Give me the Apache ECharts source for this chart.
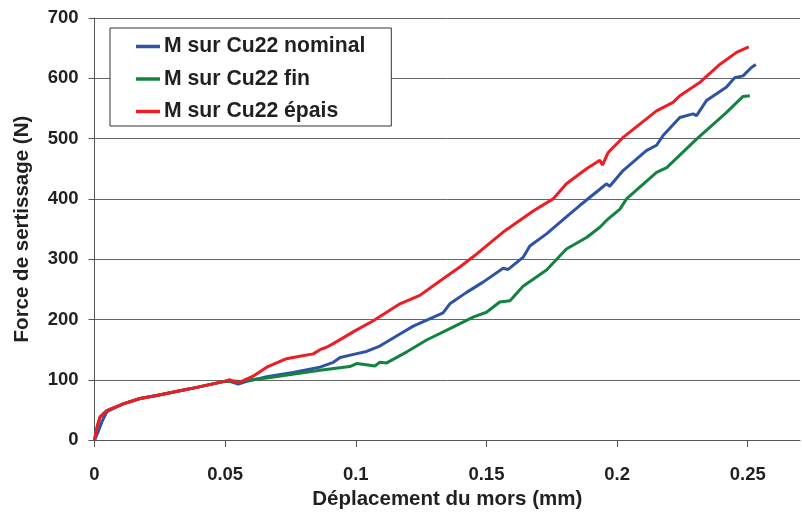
<!DOCTYPE html>
<html>
<head>
<meta charset="utf-8">
<script src="https://cdn.jsdelivr.net/npm/echarts@6/dist/echarts.min.js"></script>
<style>
html,body{margin:0;padding:0;background:#fff;}
#c{width:802px;height:515px;}
</style>
</head>
<body>
<div id="c"></div>
<script>
const seriesNames = ['M sur Cu22 nominal', 'M sur Cu22 fin', 'M sur Cu22 épais'];
const xTickLabels = ['0', '0.05', '0.1', '0.15', '0.2', '0.25'];
const yTickLabels = ['0', '100', '200', '300', '400', '500', '600', '700'];

const xNominal = [0, 0.0012, 0.003, 0.0047, 0.011, 0.0174, 0.0238, 0.0365, 0.0493, 0.052, 0.055, 0.058, 0.0659, 0.076, 0.0863, 0.0914, 0.094, 0.1, 0.1041, 0.1092, 0.1169, 0.122, 0.1334, 0.136, 0.1424, 0.1487, 0.1564, 0.1583, 0.164, 0.1666, 0.173, 0.1781, 0.1857, 0.1934, 0.1959, 0.1972, 0.2023, 0.2112, 0.2151, 0.2176, 0.224, 0.2291, 0.2304, 0.2342, 0.2418, 0.245, 0.2482, 0.2514, 0.2531];
const yNominal = [0, 12, 32, 47, 60, 69, 74, 85, 97, 97, 93, 97, 105, 112, 121, 129, 137, 143, 147, 156, 176, 189, 211, 226, 245, 262, 285, 283, 303, 322, 342, 361, 389, 416, 425, 421, 447, 480, 489, 505, 535, 541, 538, 563, 585, 601, 604, 618, 623];

const xFin = [0, 0.001, 0.0021, 0.0047, 0.011, 0.0174, 0.0238, 0.0365, 0.0493, 0.053, 0.056, 0.06, 0.0659, 0.0863, 0.0977, 0.1003, 0.104, 0.1073, 0.1092, 0.1118, 0.1194, 0.1271, 0.136, 0.1449, 0.15, 0.1551, 0.159, 0.164, 0.173, 0.1806, 0.1883, 0.1934, 0.1966, 0.2011, 0.2036, 0.2151, 0.219, 0.2304, 0.2418, 0.2482, 0.2508];
const yFin = [0, 22, 38, 49, 60, 69, 74, 85, 97, 98, 97, 100, 103, 116, 122, 127, 125, 123, 129, 128, 146, 166, 185, 204, 212, 229, 231, 255, 282, 317, 336, 353, 367, 383, 400, 444, 452, 499, 543, 570, 571];

const xEpais = [0, 0.001, 0.0021, 0.0047, 0.011, 0.0174, 0.0238, 0.0365, 0.0493, 0.0518, 0.0538, 0.0557, 0.0607, 0.0659, 0.0735, 0.0786, 0.0837, 0.0863, 0.0888, 0.0914, 0.1, 0.1067, 0.1169, 0.1245, 0.1322, 0.1398, 0.1449, 0.1564, 0.1679, 0.1755, 0.1806, 0.1883, 0.1934, 0.1944, 0.1966, 0.2023, 0.2151, 0.2214, 0.224, 0.2316, 0.2393, 0.2457, 0.2504];
const yEpais = [0, 22, 38, 49, 60, 69, 74, 85, 97, 100, 96, 96, 106, 121, 135, 139, 143, 150, 154, 160, 182, 198, 226, 240, 264, 287, 304, 345, 380, 400, 425, 450, 464, 456, 477, 502, 546, 560, 571, 593, 623, 643, 652];

const colors = ['#2F52A4', '#13843F', '#EE1D25'];

function zip(xs, ys) { return xs.map((x, i) => [x, ys[i]]); }
const seriesData = [zip(xNominal, yNominal), zip(xFin, yFin), zip(xEpais, yEpais)];

const chart = echarts.init(document.getElementById('c'), null, {renderer: 'canvas'});
const font = 'Arial, "Liberation Sans", sans-serif';
chart.setOption({
  animation: false,
  backgroundColor: '#fff',
  grid: {left: 94.5, right: 2, top: 18, bottom: 73.5, containLabel: false},
  legend: {
    orient: 'vertical',
    left: 110, top: 28,
    padding: [8, 26, 4, 26],
    backgroundColor: '#fff',
    borderColor: '#333',
    borderWidth: 1,
    itemGap: 11.5,
    itemWidth: 24,
    itemHeight: 3.5,
    icon: 'rect',
    data: seriesNames,
    textStyle: {fontFamily: font, fontWeight: 'bold', fontSize: 21.2, color: '#231F20', lineHeight: 20, padding: [0,0,0,-1]}
  },
  xAxis: {
    type: 'value', min: 0, max: 0.27, interval: 0.05,
    name: 'Déplacement du mors (mm)', nameLocation: 'middle', nameGap: 46,
    nameTextStyle: {fontFamily: font, fontWeight: 'bold', fontSize: 20.5, color: '#231F20'},
    axisLine: {show: true, lineStyle: {color: '#555', width: 1}},
    axisTick: {show: true, length: 7, lineStyle: {color: '#555'}},
    axisLabel: {
      margin: 25, fontFamily: font, fontWeight: 'bold', fontSize: 18.5, color: '#231F20',
      showMaxLabel: false,
      formatter: function (v) { const i = Math.round(v / 0.05); return (Math.abs(v - i * 0.05) < 1e-9 && xTickLabels[i] !== undefined) ? xTickLabels[i] : ''; }
    },
    splitLine: {show: false}
  },
  yAxis: {
    type: 'value', min: 0, max: 700, interval: 100,
    name: 'Force de sertissage (N)', nameLocation: 'middle', nameGap: 62, nameRotate: 90,
    nameTextStyle: {fontFamily: font, fontWeight: 'bold', fontSize: 20.5, color: '#231F20'},
    axisLine: {show: true, lineStyle: {color: '#555', width: 1}},
    axisTick: {show: true, length: 6, lineStyle: {color: '#555'}},
    axisLabel: {
      margin: 16, fontFamily: font, fontWeight: 'bold', fontSize: 18.5, color: '#231F20',
      formatter: function (v) { const i = Math.round(v / 100); return yTickLabels[i] !== undefined ? yTickLabels[i] : ''; }
    },
    splitLine: {show: true, lineStyle: {color: '#666', width: 1}}
  },
  series: seriesNames.map((n, i) => ({
    name: n, type: 'line', data: seriesData[i],
    showSymbol: false, symbol: 'none', smooth: false,
    color: colors[i],
    lineStyle: {color: colors[i], width: 3},
    z: 2 + i
  }))
});
</script>
</body>
</html>
